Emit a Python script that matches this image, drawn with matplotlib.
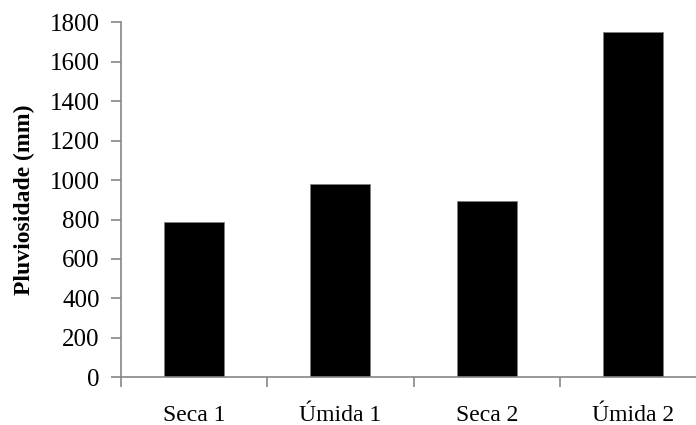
import matplotlib
matplotlib.use("Agg")
import matplotlib.pyplot as plt

# rainfall per period
periods = ["Seca 1", "Úmida 1", "Seca 2", "Úmida 2"]
rainfall = [786, 980, 894, 1753]
y_ticks = [0, 200, 400, 600, 800, 1000, 1200, 1400, 1600, 1800]

plt.rcParams['font.family'] = ['Liberation Serif', 'DejaVu Serif']
axis_grey = '#868686'

fig = plt.figure(figsize=(6.96, 4.25), dpi=100)
ax = fig.add_axes([0.1734, 0.1122, 0.8417, 0.8353])

x = range(len(periods))
ax.bar(x, rainfall, width=0.41, color='black', edgecolor='#7f7f7f', linewidth=0.6)

ax.set_xlim(-0.5, len(periods) - 0.5)
ax.set_ylim(0, 1800)
ax.set_yticks(y_ticks)
ax.set_yticklabels([str(v) for v in y_ticks], fontsize=18)

# tick marks between categories, labels centred under the bars
ax.set_xticks([i - 0.5 for i in range(len(periods) + 1)])
ax.set_xticklabels([])
ax.set_xticks(list(x), minor=True)
ax.set_xticklabels(periods, minor=True, fontsize=17)
ax.tick_params(axis='x', which='minor', length=0, pad=20)
ax.tick_params(axis='x', which='major', length=7, width=1.2, color=axis_grey, direction='out')
ax.tick_params(axis='y', length=7, width=1.2, color=axis_grey, direction='out', pad=8)

for side in ['top', 'right']:
    ax.spines[side].set_visible(False)
for side in ['left', 'bottom']:
    ax.spines[side].set_color(axis_grey)
    ax.spines[side].set_linewidth(1.2)

ax.set_ylabel('Pluviosidade (mm)', fontsize=17, fontweight='bold', labelpad=11)

plt.savefig('out.png', dpi=100)
